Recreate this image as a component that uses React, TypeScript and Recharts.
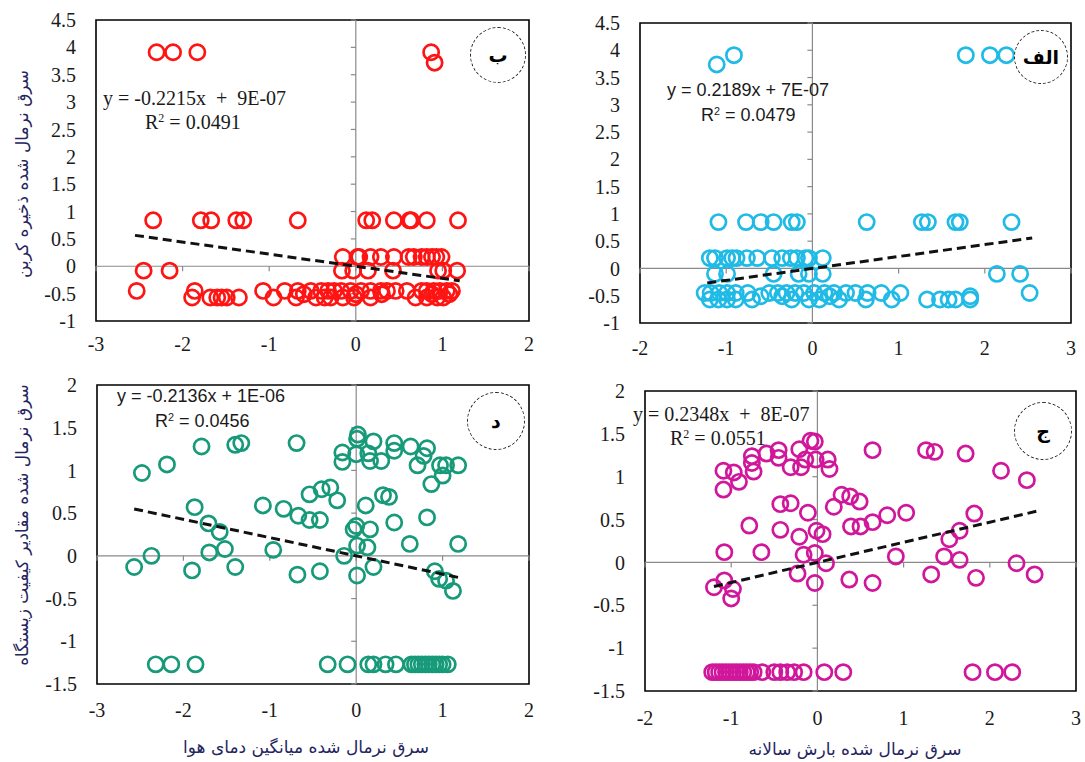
import React from 'react';
import { ScatterChart, Scatter, XAxis, YAxis, ReferenceLine, ReferenceArea, ReferenceDot } from 'recharts';

// ---------- Data ----------
// Panel ب : carbon storage vs temperature
const carbonTempTop = [[-2.30, 3.91], [-2.11, 3.91], [-1.83, 3.91], [0.87, 3.91], [0.91, 3.72]];
const carbonTempRowA = [[-2.34, 0.84], [-1.79, 0.84], [-1.67, 0.84], [-1.38, 0.84], [-1.30, 0.84], [-0.67, 0.84], [0.12, 0.84], [0.19, 0.84], [0.44, 0.84], [0.62, 0.84], [0.64, 0.84], [0.82, 0.84], [1.18, 0.84]];
const carbonTempRowBx = [-0.15, 0.02, 0.04, 0.17, 0.29, 0.44, 0.61, 0.67, 0.76, 0.82, 0.88, 0.93, 0.99];
const carbonTempRowCx = [-2.45, -2.15, -0.16, -0.03, 0.14, 0.43, 0.95, 1.01, 1.17];
const carbonTempRowDx = [-2.53, -1.86, -1.07, -0.82, -0.67, -0.52, -0.40, -0.32, -0.25, -0.17, -0.06, 0.06, 0.17, 0.29, 0.36, 0.46, 0.59, 0.76, 0.82, 0.90, 0.97, 1.05, 1.11];
const carbonTempRowEx = [-1.89, -1.68, -1.60, -1.55, -1.49, -1.35, -0.95, -0.69, -0.46, -0.36, -0.29, -0.15, -0.02, 0.17, 0.69, 0.82, 0.94, 1.01];
const carbonTempRowFx = [-0.60, 0.0, 0.30, 0.88, 1.08];

// Panel الف : carbon storage vs precipitation
const carbonPrecTop = [[-1.11, 3.74], [-0.91, 3.91], [1.78, 3.91], [2.06, 3.91], [2.25, 3.91]];
const carbonPrecRowAx = [-1.09, -0.77, -0.60, -0.45, -0.24, -0.18, 0.63, 1.27, 1.34, 1.66, 1.71, 2.31];
const carbonPrecRowBx = [-1.19, -1.13, -0.99, -0.93, -0.88, -0.76, -0.64, -0.47, -0.35, -0.25, -0.18, -0.08, -0.04, 0.12];
const carbonPrecRowCx = [-1.13, -0.99, -0.45, -0.16, -0.04, 0.12, 2.14, 2.41];
const carbonPrecRowDx = [-1.25, -1.18, -1.08, -0.99, -0.89, -0.75, -0.50, -0.40, -0.30, -0.20, -0.10, 0.02, 0.14, 0.25, 0.39, 0.50, 0.64, 0.80, 1.02, 2.52];
const carbonPrecRowEx = [-1.19, -1.09, -0.99, -0.89, -0.70, -0.24, -0.04, 0.08, 0.31, 0.62, 0.92, 1.33, 1.48, 1.58, 1.66, 1.83];
const carbonPrecRowFx = [-0.60, -0.35, 0.20, 1.83];

// Panel د : habitat quality vs temperature
const habitatTempPts = [
  [-2.48, 0.97], [-2.19, 1.07], [-1.79, 1.28], [-1.40, 1.30], [-1.33, 1.32], [-0.69, 1.32],
  [-1.87, 0.57], [-1.71, 0.38], [-1.58, 0.28], [-1.70, 0.04], [-1.52, 0.08], [-2.37, 0.0], [-2.57, -0.13], [-1.90, -0.17], [-1.40, -0.13],
  [-1.08, 0.59], [-0.96, 0.07], [-0.84, 0.55], [-0.67, 0.47], [-0.54, 0.42], [-0.42, 0.42], [-0.54, 0.72], [-0.40, 0.78], [-0.30, 0.80], [-0.22, 0.65],
  [-0.68, -0.22], [-0.42, -0.18], [-0.14, 0.0], [0.01, -0.23], [0.0, 0.35], [-0.03, 0.31], [0.01, 0.12], [0.11, 0.59], [0.16, 0.31], [0.13, 0.10],
  [0.20, -0.13], [0.31, 0.71], [0.38, 0.69], [0.44, 0.39], [0.62, 0.14], [0.82, 0.45], [1.18, 0.14], [0.91, -0.18], [0.96, -0.27], [1.04, -0.29], [1.12, -0.41],
  [0.02, 1.42], [0.01, 1.37], [-0.16, 1.21], [-0.16, 1.10], [0.0, 1.19], [0.14, 1.20], [0.20, 1.34], [0.16, 1.11], [0.29, 1.11], [0.44, 1.32],
  [0.44, 1.23], [0.63, 1.28], [0.71, 1.06], [0.82, 1.26], [0.78, 1.17], [0.87, 0.84], [1.0, 0.94], [0.97, 1.06], [1.04, 1.06], [1.18, 1.06],
];
const habitatTempBottomX = [-2.32, -2.14, -1.86, -0.33, -0.10, 0.14, 0.20, 0.34, 0.46, 0.64, 0.68, 0.72, 0.76, 0.80, 0.84, 0.88, 0.92, 0.96, 1.0, 1.06];

// Panel ج : habitat quality vs precipitation
const habitatPrecPts = [
  [-1.09, 1.07], [-1.09, 0.85], [-0.97, 1.05], [-0.91, 0.94], [-0.76, 1.24], [-0.76, 1.16], [-0.74, 1.06], [-0.59, 1.27], [-0.45, 1.31], [-0.45, 1.22],
  [-0.31, 1.11], [-0.21, 1.32], [-0.19, 1.11], [-0.14, 1.20], [-0.08, 1.42], [-0.03, 1.41], [-0.02, 1.20], [0.12, 1.20], [0.14, 1.09], [0.64, 1.31],
  [1.26, 1.31], [1.36, 1.29], [1.72, 1.27], [2.13, 1.07], [2.43, 0.96],
  [-0.43, 0.68], [-0.31, 0.69], [-0.11, 0.58], [-0.79, 0.43], [-0.43, 0.38], [-0.21, 0.30], [-0.01, 0.37], [0.06, 0.33], [0.19, 0.65], [0.28, 0.79],
  [0.38, 0.77], [0.49, 0.71], [0.39, 0.42], [0.50, 0.42], [0.64, 0.47], [0.81, 0.55], [1.03, 0.58], [1.82, 0.57], [1.65, 0.37], [1.53, 0.27],
  [-1.08, 0.12], [-0.65, 0.12], [-0.16, 0.09], [-0.03, 0.11], [0.10, -0.01], [0.91, 0.07], [1.47, 0.07], [1.65, 0.03], [2.31, -0.01], [2.52, -0.14],
  [1.32, -0.14], [1.84, -0.18], [0.37, -0.20], [0.64, -0.24], [-0.03, -0.24], [-0.23, -0.13], [-1.20, -0.29], [-1.08, -0.21], [-0.98, -0.31], [-1.00, -0.42],
];
const habitatPrecBottomX = [-1.22, -1.18, -1.14, -1.10, -1.06, -1.02, -0.98, -0.94, -0.90, -0.86, -0.82, -0.78, -0.74, -0.64, -0.50, -0.43, -0.35, -0.27, -0.16, 0.08, 0.30, 1.80, 2.06, 2.26];

// Axis ticks
const xTicksLeft = [-3, -2, -1, 0, 1, 2];
const xTicksRight = [-2, -1, 0, 1, 2, 3];
const yTicksTop = [-1, -0.5, 0, 0.5, 1, 1.5, 2, 2.5, 3, 3.5, 4, 4.5];
const yTicksBottom = [-1.5, -1, -0.5, 0, 0.5, 1, 1.5, 2];

// Trend lines (as printed) and x-extent
const trendB = { slope: -0.2215, intercept: 9e-7, x0: -2.55, x1: 1.2 };
const trendAlef = { slope: 0.2189, intercept: 7e-7, x0: -1.22, x1: 2.55 };
const trendDal = { slope: -0.2136, intercept: 1e-6, x0: -2.57, x1: 1.2 };
const trendJim = { slope: 0.2348, intercept: 8e-7, x0: -1.2, x1: 2.55 };

// ---------- helpers ----------
type Pt = { x: number; y: number };
const pairs = (arr: number[][]): Pt[] => arr.map(([x, y]) => ({ x, y }));
const row = (xs: number[], y: number): Pt[] => xs.map((x) => ({ x, y }));
const trendPts = (t: { slope: number; intercept: number; x0: number; x1: number }): Pt[] => [
  { x: t.x0, y: t.slope * t.x0 + t.intercept },
  { x: t.x1, y: t.slope * t.x1 + t.intercept },
];

const dataB = [
  ...pairs(carbonTempTop), ...pairs(carbonTempRowA), ...row(carbonTempRowBx, 0.17), ...row(carbonTempRowCx, -0.08),
  ...row(carbonTempRowDx, -0.45), ...row(carbonTempRowEx, -0.57), ...row(carbonTempRowFx, -0.51),
];
const dataAlef = [
  ...pairs(carbonPrecTop), ...row(carbonPrecRowAx, 0.85), ...row(carbonPrecRowBx, 0.19), ...row(carbonPrecRowCx, -0.1),
  ...row(carbonPrecRowDx, -0.45), ...row(carbonPrecRowEx, -0.57), ...row(carbonPrecRowFx, -0.51),
];
const dataDal = [...pairs(habitatTempPts), ...row(habitatTempBottomX, -1.27)];
const dataJim = [...pairs(habitatPrecPts), ...row(habitatPrecBottomX, -1.28)];

const SERIF = "'Liberation Serif', 'DejaVu Serif', serif";
const SANS = "'Liberation Sans', Arial, sans-serif";
const ARABIC = "'DejaVu Sans', 'Noto Sans', sans-serif";
const TITLE_COLOR = '#25255e';

type PanelProps = {
  left: number; top: number; width: number; height: number;
  margin: { top: number; right: number; bottom: number; left: number };
  data: Pt[]; color: string;
  xDomain: [number, number]; yDomain: [number, number];
  xTicks: number[]; yTicks: number[];
  trend: Pt[];
  xTickMargin: number;
};

const ring = (color: string) => (p: any) => (
  <circle cx={p.cx} cy={p.cy} r={7.6} fill="none" stroke={color} strokeWidth={2.7} />
);
const emptyShape = () => <g />;

const Panel = (props: PanelProps) => {
  const { data, color, xDomain, yDomain, xTicks, yTicks, trend } = props;
  return (
    <div style={{ position: 'absolute', left: props.left, top: props.top }}>
      <ScatterChart width={props.width} height={props.height} margin={props.margin}>
        <XAxis
          type="number" dataKey="x" domain={xDomain} ticks={xTicks} allowDataOverflow
          axisLine={false} tickLine={false} tickSize={0} tickMargin={props.xTickMargin} height={40}
          tick={{ fontFamily: SERIF, fontSize: 20, fill: '#1a1a1a' }} interval={0}
        />
        <YAxis
          type="number" dataKey="y" domain={yDomain} ticks={yTicks} allowDataOverflow
          axisLine={false} tickLine={false} tickSize={0} tickMargin={20} width={70}
          tick={{ fontFamily: SERIF, fontSize: 20, fill: '#1a1a1a' }} interval={0}
        />
        <ReferenceLine x={0} stroke="#8a8a8a" strokeWidth={1.2} />
        <ReferenceLine y={0} stroke="#8a8a8a" strokeWidth={1.2} />
        {yTicks.map((v) => (
          <ReferenceDot key={'yt' + v} x={0} y={v} r={0} shape={(p: any) => (
            <line x1={p.cx - 5} y1={p.cy} x2={p.cx} y2={p.cy} stroke="#8a8a8a" strokeWidth={1.2} />
          )} />
        ))}
        {xTicks.map((v) => (
          <ReferenceDot key={'xt' + v} x={v} y={0} r={0} shape={(p: any) => (
            <line x1={p.cx} y1={p.cy} x2={p.cx} y2={p.cy + 5} stroke="#8a8a8a" strokeWidth={1.2} />
          )} />
        ))}
        <ReferenceArea x1={xDomain[0]} x2={xDomain[1]} y1={yDomain[0]} y2={yDomain[1]} fill="none" fillOpacity={0} stroke="#000" strokeWidth={1.6} />
        <Scatter data={data} shape={ring(color)} isAnimationActive={false} />
        <Scatter data={trend} shape={emptyShape} line={{ stroke: '#111', strokeWidth: 3, strokeDasharray: '9 5' }} isAnimationActive={false} />
      </ScatterChart>
    </div>
  );
};

const Eq = ({ left, top, font, size, children }: any) => (
  <div style={{ position: 'absolute', left, top, fontFamily: font, fontSize: size, lineHeight: '22px', whiteSpace: 'pre', color: '#1a1a1a' }}>
    {children}
  </div>
);
const R2 = ({ value }: { value: string }) => (
  <span>R<span style={{ fontSize: '0.6em', position: 'relative', top: '-0.6em' }}>2</span> = {value}</span>
);

const Badge = ({ cx, cy, r, label }: { cx: number; cy: number; r: number; label: string }) => (
  <div style={{
    position: 'absolute', left: cx - r, top: cy - r, width: 2 * r, height: 2 * r, boxSizing: 'border-box',
    border: '1.3px dashed #222', borderRadius: '50%', display: 'flex', alignItems: 'center', justifyContent: 'center',
    fontFamily: ARABIC, fontWeight: 'bold', fontSize: 19, color: '#000', background: '#fff',
  }}>
    <span style={{ direction: 'rtl' }}>{label}</span>
  </div>
);

const VTitle = ({ cx, cy, text }: { cx: number; cy: number; text: string }) => (
  <div style={{
    position: 'absolute', left: cx - 200, top: cy - 12, width: 400, height: 24, textAlign: 'center',
    transform: 'rotate(-90deg)', fontFamily: ARABIC, fontSize: 17, lineHeight: '24px', color: TITLE_COLOR, direction: 'rtl', whiteSpace: 'nowrap',
  }}>{text}</div>
);
const HTitle = ({ cx, cy, text }: { cx: number; cy: number; text: string }) => (
  <div style={{
    position: 'absolute', left: cx - 200, top: cy - 12, width: 400, height: 24, textAlign: 'center',
    fontFamily: ARABIC, fontSize: 17, lineHeight: '24px', color: TITLE_COLOR, direction: 'rtl', whiteSpace: 'nowrap',
  }}>{text}</div>
);

export default function App() {
  return (
    <div style={{ position: 'absolute', left: 0, top: 0, width: 1085, height: 762, background: '#fff', overflow: 'hidden' }}>
      {/* ب : top-left; plot frame 96..529 x 21..321 */}
      <Panel left={0} top={0} width={545} height={370} margin={{ top: 20, right: 16, bottom: 9, left: 26 }}
        data={dataB} color="#ff1414" xDomain={[-3, 2]} yDomain={[-1, 4.5]} xTicks={xTicksLeft} yTicks={yTicksTop}
        trend={trendPts(trendB)} xTickMargin={16} />
      {/* الف : top-right; plot frame 640..1071 x 23..323 */}
      <Panel left={545} top={0} width={540} height={370} margin={{ top: 23, right: 14, bottom: 7, left: 25 }}
        data={dataAlef} color="#1fbbe6" xDomain={[-2, 3]} yDomain={[-1, 4.5]} xTicks={xTicksRight} yTicks={yTicksTop}
        trend={trendPts(trendAlef)} xTickMargin={18} />
      {/* د : bottom-left; plot frame 97..529 x 385..684 */}
      <Panel left={0} top={370} width={545} height={392} margin={{ top: 15, right: 16, bottom: 38, left: 27 }}
        data={dataDal} color="#179a79" xDomain={[-3, 2]} yDomain={[-1.5, 2]} xTicks={xTicksLeft} yTicks={yTicksBottom}
        trend={trendPts(trendDal)} xTickMargin={19} />
      {/* ج : bottom-right; plot frame 645..1076 x 391..691 */}
      <Panel left={545} top={370} width={540} height={392} margin={{ top: 21, right: 9, bottom: 31, left: 30 }}
        data={dataJim} color="#d0179b" xDomain={[-2, 3]} yDomain={[-1.5, 2]} xTicks={xTicksRight} yTicks={yTicksBottom}
        trend={trendPts(trendJim)} xTickMargin={20} />

      {/* regression labels */}
      <Eq left={103} top={87} font={SERIF} size={20}>y = -0.2215x  +  9E-07</Eq>
      <Eq left={145} top={111} font={SERIF} size={20}><R2 value="0.0491" /></Eq>
      <Eq left={667} top={79} font={SANS} size={18}>y = 0.2189x + 7E-07</Eq>
      <Eq left={701} top={104} font={SANS} size={18}><R2 value="0.0479" /></Eq>
      <Eq left={117} top={385} font={SANS} size={18}>y = -0.2136x + 1E-06</Eq>
      <Eq left={155} top={410} font={SANS} size={18}><R2 value="0.0456" /></Eq>
      <Eq left={633} top={403} font={SERIF} size={20}>y = 0.2348x  +  8E-07</Eq>
      <Eq left={670} top={427} font={SERIF} size={20}><R2 value="0.0551" /></Eq>

      {/* panel letters */}
      <Badge cx={498} cy={55} r={28} label="ب" />
      <Badge cx={1041} cy={57} r={27} label="الف" />
      <Badge cx={496} cy={421} r={29} label="د" />
      <Badge cx={1043} cy={431} r={29} label="ج" />

      {/* axis titles */}
      <VTitle cx={22} cy={174} text="سرق نرمال شده ذخیره کربن" />
      <VTitle cx={22} cy={525} text="سرق نرمال شده مقادیر کیفیت زیستگاه" />
      <HTitle cx={306} cy={747} text="سرق نرمال شده میانگین دمای هوا" />
      <HTitle cx={855} cy={749} text="سرق نرمال شده بارش سالانه" />
    </div>
  );
}
